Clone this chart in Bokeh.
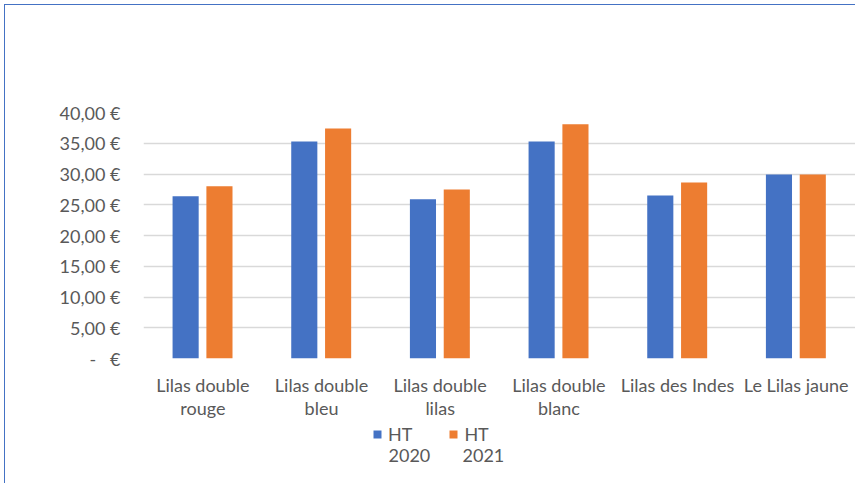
from bokeh.plotting import figure
from bokeh.layouts import column
from bokeh.models import ColumnDataSource, FixedTicker, Legend, LegendItem, Label
from bokeh.transform import dodge
from bokeh.embed import file_html
from bokeh.resources import INLINE

categories = ["Lilas double\nrouge", "Lilas double\nbleu", "Lilas double\nlilas",
              "Lilas double\nblanc", "Lilas des Indes", "Le Lilas jaune"]
ht_2020 = [26.4, 35.3, 25.9, 35.3, 26.5, 29.9]
ht_2021 = [28.0, 37.4, 27.5, 38.1, 28.6, 29.9]
series_labels = ["HT 2020", "HT 2021"]
y_ticks = [0, 5, 10, 15, 20, 25, 30, 35, 40]
y_tick_labels = ["-\u00a0\u00a0\u00a0€", "5,00 €", "10,00 €", "15,00 €", "20,00 €",
                 "25,00 €", "30,00 €", "35,00 €", "40,00 €"]

FONT = "Lato"
TXT = "#595959"
BLUE = "#4472C4"
ORANGE = "#ED7D31"

src = ColumnDataSource(dict(cat=categories, a=ht_2020, b=ht_2021))

p = figure(x_range=categories, y_range=(0, 40), width=850, height=418,
           output_backend="svg", toolbar_location=None,
           min_border_left=138, min_border_right=0, min_border_top=107,
           min_border_bottom=65)
p.outline_line_color = None

p.vbar(x=dodge("cat", -0.145, range=p.x_range), top="a", width=0.22,
       source=src, fill_color=BLUE, line_color=None)
p.vbar(x=dodge("cat", 0.14, range=p.x_range), top="b", width=0.22,
       source=src, fill_color=ORANGE, line_color=None)

p.yaxis.ticker = FixedTicker(ticks=y_ticks)
p.yaxis.major_label_overrides = {t: l for t, l in zip(y_ticks, y_tick_labels)}
for ax in (p.xaxis[0], p.yaxis[0]):
    ax.axis_line_color = None
    ax.major_tick_line_color = None
    ax.minor_tick_line_color = None
    ax.major_label_text_font = FONT
    ax.major_label_text_font_size = "18px"
    ax.major_label_text_color = TXT
p.yaxis.major_label_standoff = 17
p.xaxis.major_label_standoff = 9
p.xaxis.major_label_text_line_height = 1.08

p.xgrid.grid_line_color = None
p.ygrid.grid_line_color = "#D9D9D9"
p.ygrid.grid_line_width = 1.3

# legend strip below the chart (legend proxies: zero-size bars outside the view)
lg = figure(width=850, height=60, x_range=(0, 1), y_range=(0, 1),
            output_backend="svg", toolbar_location=None,
            x_axis_location=None, y_axis_location=None, min_border=0)
lg.outline_line_color = None
lg.grid.visible = False
k1 = lg.vbar(x=[-5], top=[0], width=0.0, fill_color=BLUE, line_color=None)
k2 = lg.vbar(x=[-5], top=[0], width=0.0, fill_color=ORANGE, line_color=None)
first = [s.split(" ", 1)[0] for s in series_labels]
second = [s.split(" ", 1)[1] for s in series_labels]
legend = Legend(items=[LegendItem(label=first[0], renderers=[k1]),
                       LegendItem(label=first[1], renderers=[k2])],
                location=(229, 38), orientation="horizontal",
                glyph_width=10, glyph_height=10, label_standoff=6, spacing=36,
                padding=0, margin=0, border_line_color=None,
                background_fill_alpha=0,
                label_text_font=FONT, label_text_font_size="18px",
                label_text_color=TXT, label_text_line_height=1.05)
lg.add_layout(legend, "center")
for txt, xs in zip(second, [245, 319]):
    lg.add_layout(Label(x=xs, y=28, x_units="screen", y_units="screen", text=txt,
                        text_font=FONT, text_font_size="18px", text_color=TXT,
                        text_baseline="middle", text_align="left"))

layout = column(p, lg, spacing=0,
                styles={"border-left": "1.5px solid #4472C4",
                        "border-top": "1.5px solid #4472C4",
                        "margin-left": "4px", "margin-top": "4px"})

open("out.html", "w").write(file_html(layout, INLINE))
